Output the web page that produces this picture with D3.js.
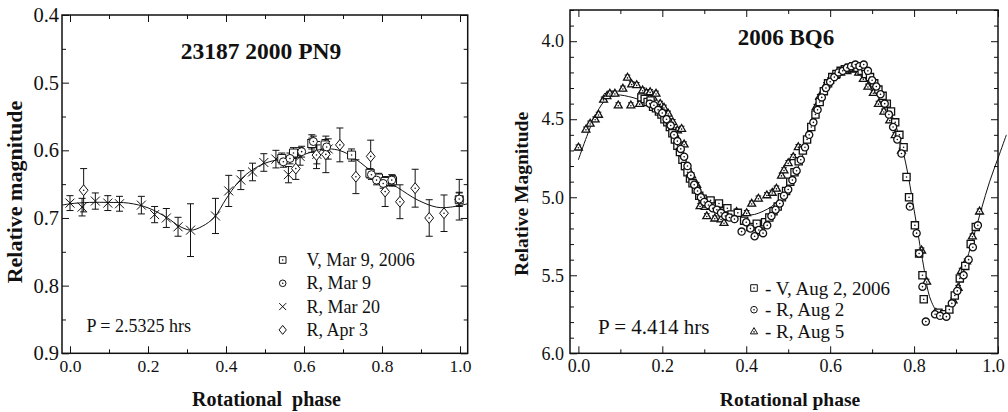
<!DOCTYPE html>
<html>
<head>
<meta charset="utf-8">
<script src="https://cdn.jsdelivr.net/npm/d3@7"></script>
<style>
  body { margin: 0; background: #fff; }
  svg text { font-family: "Liberation Serif", "DejaVu Serif", serif; fill: #111; }
</style>
</head>
<body>
<svg id="chart" width="1008" height="412"></svg>
<script>
// ---- 23187 2000 PN9 : [phase, magnitude, error] ----
const pn9V = [
  [0.543, 0.612, 0.008], [0.573, 0.604, 0.008], [0.620, 0.590, 0.008], [0.654, 0.592, 0.008],
  [0.722, 0.607, 0.009], [0.769, 0.634, 0.007], [0.791, 0.641, 0.007], [0.808, 0.646, 0.007],
  [0.827, 0.645, 0.008], [0.998, 0.673, 0.010]
];
const pn9RMar9 = [
  [0.547, 0.617, 0.008], [0.564, 0.612, 0.008], [0.594, 0.602, 0.008], [0.624, 0.587, 0.008],
  [0.658, 0.595, 0.008], [0.773, 0.636, 0.007], [0.786, 0.644, 0.007], [0.803, 0.649, 0.007],
  [0.825, 0.644, 0.008], [0.998, 0.672, 0.010]
];
const pn9RMar20 = [
  [0.000, 0.678, 0.011], [0.031, 0.684, 0.013], [0.065, 0.675, 0.012], [0.097, 0.678, 0.011],
  [0.127, 0.679, 0.011], [0.183, 0.681, 0.013], [0.217, 0.695, 0.012], [0.247, 0.700, 0.014],
  [0.277, 0.713, 0.014], [0.309, 0.718, 0.039], [0.373, 0.697, 0.026], [0.407, 0.660, 0.023],
  [0.438, 0.644, 0.014], [0.468, 0.632, 0.013], [0.497, 0.618, 0.013], [0.528, 0.613, 0.013],
  [0.560, 0.636, 0.012], [0.590, 0.609, 0.013], [0.620, 0.590, 0.013], [0.633, 0.606, 0.014],
  [0.662, 0.598, 0.015]
];
const pn9RApr3 = [
  [0.035, 0.659, 0.032], [0.579, 0.627, 0.016], [0.632, 0.607, 0.020], [0.656, 0.606, 0.027],
  [0.692, 0.592, 0.025], [0.733, 0.639, 0.025], [0.771, 0.609, 0.024], [0.808, 0.661, 0.022],
  [0.846, 0.676, 0.025], [0.885, 0.656, 0.028], [0.921, 0.700, 0.027], [0.959, 0.693, 0.027],
  [0.998, 0.673, 0.030]
];
const pn9Fit = [
  [-0.02, 0.681], [0.0, 0.679], [0.05, 0.677], [0.10, 0.677], [0.15, 0.678], [0.20, 0.685],
  [0.25, 0.700], [0.28, 0.712], [0.31, 0.718], [0.34, 0.712], [0.37, 0.699], [0.40, 0.672],
  [0.43, 0.648], [0.46, 0.632], [0.50, 0.619], [0.55, 0.612], [0.60, 0.606], [0.64, 0.599],
  [0.67, 0.598], [0.70, 0.602], [0.735, 0.614], [0.78, 0.634], [0.84, 0.655], [0.89, 0.673],
  [0.94, 0.684], [0.975, 0.684], [1.02, 0.679]
];
const pn9Legend = ["V, Mar 9, 2006", "R, Mar 9", "R, Mar 20", "R, Apr 3"];

// ---- 2006 BQ6 : [phase, magnitude] ----
const bq6V = [
  [0.150, 4.36], [0.158, 4.37], [0.165, 4.39], [0.172, 4.38], [0.178, 4.42], [0.185, 4.43],
  [0.192, 4.45], [0.198, 4.47], [0.205, 4.50], [0.212, 4.52], [0.218, 4.55], [0.224, 4.59],
  [0.230, 4.63], [0.236, 4.67], [0.242, 4.71], [0.248, 4.76], [0.254, 4.80], [0.260, 4.84],
  [0.266, 4.88], [0.272, 4.91], [0.280, 4.95], [0.288, 4.99], [0.296, 5.01], [0.305, 5.04],
  [0.315, 5.02], [0.325, 5.06], [0.335, 5.04], [0.345, 5.09], [0.355, 5.07], [0.365, 5.11],
  [0.380, 5.10], [0.395, 5.15], [0.410, 5.19], [0.425, 5.17], [0.435, 5.22], [0.445, 5.16],
  [0.455, 5.13], [0.465, 5.09], [0.475, 5.06], [0.485, 5.00], [0.495, 4.96], [0.505, 4.90],
  [0.515, 4.84], [0.525, 4.77], [0.535, 4.70], [0.545, 4.63], [0.555, 4.55], [0.565, 4.47],
  [0.575, 4.39], [0.585, 4.32], [0.595, 4.27], [0.605, 4.23], [0.615, 4.21], [0.625, 4.19],
  [0.635, 4.18], [0.645, 4.17], [0.655, 4.16], [0.665, 4.17], [0.675, 4.19], [0.685, 4.21],
  [0.695, 4.23], [0.705, 4.27], [0.715, 4.31], [0.725, 4.35], [0.735, 4.40], [0.745, 4.45],
  [0.755, 4.52], [0.765, 4.60], [0.775, 4.68], [0.782, 4.87], [0.788, 5.00], [0.802, 5.18],
  [0.812, 5.36], [0.820, 5.50], [0.823, 5.654], [0.858, 5.74], [0.872, 5.75], [0.884, 5.72],
  [0.897, 5.63], [0.909, 5.52], [0.922, 5.44], [0.935, 5.30], [0.947, 5.19]
];
const bq6RAug2 = [
  [0.170, 4.40], [0.180, 4.41], [0.190, 4.44], [0.200, 4.46], [0.210, 4.50], [0.220, 4.54],
  [0.228, 4.60], [0.236, 4.64], [0.244, 4.69], [0.252, 4.74], [0.260, 4.80], [0.268, 4.86],
  [0.276, 4.92], [0.284, 4.96], [0.292, 5.00], [0.300, 5.03], [0.310, 5.05], [0.320, 5.07],
  [0.330, 5.08], [0.340, 5.10], [0.350, 5.12], [0.360, 5.13], [0.372, 5.14], [0.389, 5.22],
  [0.400, 5.16], [0.410, 5.20], [0.420, 5.25], [0.430, 5.21], [0.440, 5.23], [0.450, 5.18],
  [0.460, 5.12], [0.470, 5.08], [0.480, 5.04], [0.490, 4.99], [0.500, 4.95], [0.510, 4.89],
  [0.520, 4.83], [0.530, 4.76], [0.540, 4.68], [0.550, 4.60], [0.560, 4.52], [0.570, 4.44],
  [0.580, 4.36], [0.590, 4.30], [0.600, 4.26], [0.610, 4.23], [0.620, 4.20], [0.630, 4.19],
  [0.640, 4.17], [0.650, 4.16], [0.660, 4.15], [0.670, 4.16], [0.680, 4.15], [0.690, 4.19],
  [0.700, 4.25], [0.710, 4.29], [0.720, 4.34], [0.730, 4.40], [0.740, 4.47], [0.750, 4.55],
  [0.760, 4.63], [0.770, 4.72], [0.790, 5.06], [0.806, 5.23], [0.812, 5.36], [0.820, 5.573],
  [0.828, 5.797], [0.850, 5.75], [0.862, 5.76], [0.877, 5.765], [0.890, 5.68], [0.903, 5.60],
  [0.918, 5.50], [0.930, 5.40], [0.940, 5.32], [0.952, 5.18]
];
const bq6RAug5 = [
  [0.000, 4.68], [0.018, 4.565], [0.028, 4.527], [0.040, 4.50], [0.048, 4.47], [0.060, 4.373],
  [0.068, 4.35], [0.075, 4.335], [0.087, 4.335], [0.095, 4.41], [0.106, 4.303], [0.117, 4.232],
  [0.125, 4.41], [0.127, 4.275], [0.139, 4.28], [0.146, 4.40], [0.153, 4.314], [0.162, 4.33],
  [0.171, 4.325], [0.178, 4.36], [0.185, 4.335], [0.195, 4.40], [0.204, 4.425], [0.214, 4.463],
  [0.225, 4.517], [0.236, 4.57], [0.246, 4.56], [0.252, 4.66], [0.258, 4.805], [0.270, 4.858],
  [0.282, 4.92], [0.290, 5.056], [0.302, 5.06], [0.306, 5.12], [0.325, 5.135], [0.340, 5.14],
  [0.347, 5.163], [0.377, 5.093], [0.401, 5.10], [0.413, 5.04], [0.429, 5.007], [0.449, 4.986],
  [0.462, 4.97], [0.472, 4.943], [0.484, 4.86], [0.490, 4.826], [0.500, 4.78], [0.512, 4.741],
  [0.524, 4.677], [0.567, 4.42], [0.575, 4.356], [0.590, 4.28], [0.599, 4.25], [0.612, 4.22],
  [0.625, 4.20], [0.640, 4.19], [0.655, 4.18], [0.668, 4.20], [0.679, 4.24], [0.690, 4.29],
  [0.703, 4.33], [0.715, 4.40], [0.728, 4.45], [0.742, 4.506], [0.755, 4.60], [0.770, 4.70],
  [0.818, 5.34], [0.830, 5.54], [0.852, 5.74], [0.866, 5.75], [0.882, 5.72], [0.893, 5.66],
  [0.905, 5.58], [0.913, 5.47], [0.925, 5.41], [0.939, 5.25], [0.956, 5.09]
];
const bq6Err = 0.015;
const bq6Fit = [
  [0.0, 4.76], [0.02, 4.61], [0.04, 4.48], [0.06, 4.39], [0.08, 4.35], [0.10, 4.345], [0.12, 4.355],
  [0.14, 4.37], [0.16, 4.40], [0.18, 4.43], [0.20, 4.48], [0.22, 4.55], [0.24, 4.66], [0.26, 4.80],
  [0.28, 4.93], [0.30, 5.01], [0.32, 5.05], [0.34, 5.08], [0.36, 5.10], [0.38, 5.11], [0.40, 5.115],
  [0.42, 5.11], [0.44, 5.09], [0.46, 5.06], [0.48, 5.01], [0.50, 4.93], [0.52, 4.83], [0.54, 4.69],
  [0.56, 4.53], [0.58, 4.37], [0.60, 4.26], [0.62, 4.20], [0.64, 4.17], [0.66, 4.165], [0.68, 4.19],
  [0.70, 4.25], [0.72, 4.33], [0.74, 4.43], [0.76, 4.57], [0.78, 4.78], [0.80, 5.08], [0.82, 5.40],
  [0.84, 5.66], [0.86, 5.743], [0.88, 5.71], [0.90, 5.61], [0.92, 5.45], [0.94, 5.27], [0.96, 5.08],
  [0.98, 4.90], [1.00, 4.75], [1.02, 4.60]
];
const bq6Legend = ["- V, Aug 2, 2006", "- R, Aug 2", "- R, Aug 5"];

const phaseTicks = [0, 0.2, 0.4, 0.6, 0.8, 1.0];
const phaseMinor = [0.1, 0.3, 0.5, 0.7, 0.9];
const pn9Ticks = [0.4, 0.5, 0.6, 0.7, 0.8, 0.9];
const pn9Minor = [0.45, 0.55, 0.65, 0.75, 0.85];
const bq6Ticks = [4.0, 4.5, 5.0, 5.5, 6.0];
const bq6Minor = [3.8, 3.9, 4.1, 4.2, 4.3, 4.4, 4.6, 4.7, 4.8, 4.9, 5.1, 5.2, 5.3, 5.4, 5.6, 5.7, 5.8, 5.9];

const svg = d3.select("#chart");

// marker shapes, drawn around (0,0)
function markerPath(type, s) {
  if (type === "square") return `M${-s},${-s}h${2 * s}v${2 * s}h${-2 * s}Z`;
  if (type === "diamond") return `M0,${-s * 1.35}L${s * 1.1},0L0,${s * 1.35}L${-s * 1.1},0Z`;
  if (type === "cross") return `M${-s},${-s}L${s},${s}M${-s},${s}L${s},${-s}`;
  if (type === "triangle") return `M0,${-s * 1.15}L${s * 1.1},${s * 0.75}L${-s * 1.1},${s * 0.75}Z`;
  return d3.arc()({ innerRadius: 0, outerRadius: s, startAngle: 0, endAngle: 2 * Math.PI });
}

function drawMarker(g, type, x, y, s, dot, sw) {
  g.append("path")
    .attr("transform", `translate(${x},${y})`)
    .attr("d", markerPath(type, s))
    .attr("fill", type === "cross" ? "none" : "#fff")
    .attr("stroke", "#111")
    .attr("stroke-width", sw || 1);
  if (dot) {
    g.append("circle").attr("cx", x).attr("cy", y + (type === "triangle" ? 0.5 : 0))
      .attr("r", 0.8).attr("fill", "#111");
  }
}

function drawFrame(g, x, y, xMinor, yMajor, yMinor, opt) {
  const [x0, x1] = x.range();
  const [y0, y1] = y.range();
  const ax = (axis, tx, ty) => g.append("g").attr("transform", `translate(${tx},${ty})`).call(axis)
    .call(s => s.select(".domain").remove())
    .call(s => s.selectAll("line").attr("stroke", "#111"));

  ax(d3.axisBottom(x).tickValues(phaseTicks).tickSize(-opt.major).tickPadding(opt.xPad).tickFormat(d3.format(".1f")), 0, y1)
    .selectAll("text").attr("font-size", opt.xFont).attr("dy", "0.71em")
    .attr("dx", d => d === 1 ? opt.lastShift : 0);
  ax(d3.axisBottom(x).tickValues(xMinor).tickSize(-opt.minor).tickFormat(""), 0, y1);
  ax(d3.axisTop(x).tickValues(phaseTicks).tickSize(-opt.major).tickFormat(""), 0, y0);
  ax(d3.axisTop(x).tickValues(xMinor).tickSize(-opt.minor).tickFormat(""), 0, y0);

  ax(d3.axisLeft(y).tickValues(yMajor).tickSize(-opt.major).tickPadding(opt.yPad).tickFormat(d3.format(".1f")), x0, 0)
    .selectAll("text").attr("font-size", opt.yFont);
  ax(d3.axisLeft(y).tickValues(yMinor).tickSize(-opt.minor).tickFormat(""), x0, 0);
  ax(d3.axisRight(y).tickValues(yMajor).tickSize(-opt.major).tickFormat(""), x1, 0);
  ax(d3.axisRight(y).tickValues(yMinor).tickSize(-opt.minor).tickFormat(""), x1, 0);

  g.append("rect").attr("x", x0).attr("y", y0).attr("width", x1 - x0).attr("height", y1 - y0)
    .attr("fill", "none").attr("stroke", "#111").attr("stroke-width", 1.5);
}

// ===================== left panel =====================
const xL = d3.scaleLinear().domain([-0.0205, 1.0197]).range([62, 467.7]);
const yL = d3.scaleLinear().domain([0.4, 0.9]).range([15, 353.3]);
const gL = svg.append("g");

drawFrame(gL, xL, yL, phaseMinor, pn9Ticks, pn9Minor,
  { major: 7, minor: 4, xPad: 6, yPad: 3, xFont: 17.5, yFont: 20.5, lastShift: 0 });

gL.append("path").datum(pn9Fit)
  .attr("d", d3.line().x(d => xL(d[0])).y(d => yL(d[1])).curve(d3.curveCatmullRom))
  .attr("fill", "none").attr("stroke", "#111").attr("stroke-width", 1);

const pn9Series = [
  { data: pn9RMar20, type: "cross", s: 4.5, dot: false },
  { data: pn9RApr3, type: "diamond", s: 4, dot: true },
  { data: pn9V, type: "square", s: 4, dot: true },
  { data: pn9RMar9, type: "circle", s: 4, dot: true }
];

pn9Series.forEach(ser => {
  const eb = gL.append("g").attr("stroke", "#111").attr("stroke-width", 1);
  ser.data.forEach(d => {
    const x = xL(d[0]), yt = yL(d[1] - d[2]), yb = yL(d[1] + d[2]);
    eb.append("line").attr("x1", x).attr("x2", x).attr("y1", yt).attr("y2", yb);
    eb.append("line").attr("x1", x - 3.5).attr("x2", x + 3.5).attr("y1", yt).attr("y2", yt);
    eb.append("line").attr("x1", x - 3.5).attr("x2", x + 3.5).attr("y1", yb).attr("y2", yb);
  });
});
pn9Series.forEach(ser => {
  ser.data.forEach(d => drawMarker(gL, ser.type, xL(d[0]), yL(d[1]), ser.s, ser.dot));
});

gL.append("text").attr("x", 261).attr("y", 59).attr("text-anchor", "middle")
  .attr("font-size", 23.5).attr("font-weight", "bold").text("23187 2000 PN9");
gL.append("text").attr("x", 86.5).attr("y", 331.5).attr("font-size", 18).text("P = 2.5325 hrs");

const legTypesL = ["square", "circle", "cross", "diamond"];
pn9Legend.forEach((t, i) => {
  const cy = 260 + i * 23.3;
  drawMarker(gL, legTypesL[i], 282.7, cy, legTypesL[i] === "cross" ? 3.5 : 3.3, legTypesL[i] !== "cross" && legTypesL[i] !== "diamond");
  gL.append("text").attr("x", 306.5).attr("y", cy + 6).attr("font-size", 18).text(t);
});

gL.append("text").attr("transform", "translate(22,192) rotate(-90)").attr("text-anchor", "middle")
  .attr("font-size", 22).attr("font-weight", "bold").text("Relative magnitude");
gL.append("text").attr("x", 266.5).attr("y", 405.5).attr("text-anchor", "middle")
  .attr("font-size", 20).attr("font-weight", "bold").style("white-space", "pre").text("Rotational  phase");

// ===================== right panel =====================
const xR = d3.scaleLinear().domain([-0.02, 1.0]).range([570, 998]);
const yR = d3.scaleLinear().domain([3.8, 6.0]).range([10, 353.3]);
const gR = svg.append("g");

drawFrame(gR, xR, yR, phaseMinor, bq6Ticks, bq6Minor,
  { major: 7, minor: 4, xPad: 6, yPad: 6, xFont: 18, yFont: 18, lastShift: -5 });

gR.append("path").datum(bq6Fit)
  .attr("d", d3.line().x(d => xR(d[0])).y(d => yR(d[1])).curve(d3.curveCatmullRom))
  .attr("fill", "none").attr("stroke", "#111").attr("stroke-width", 1);

const bq6Series = [
  { data: bq6RAug5, type: "triangle" },
  { data: bq6V, type: "square" },
  { data: bq6RAug2, type: "circle" }
];
bq6Series.forEach(ser => {
  const eb = gR.append("g").attr("stroke", "#111").attr("stroke-width", 1.1);
  ser.data.forEach(d => {
    const x = xR(d[0]), yt = yR(d[1] - bq6Err), yb = yR(d[1] + bq6Err);
    eb.append("line").attr("x1", x).attr("x2", x).attr("y1", yt).attr("y2", yb);
    eb.append("line").attr("x1", x - 2.8).attr("x2", x + 2.8).attr("y1", yt).attr("y2", yt);
    eb.append("line").attr("x1", x - 2.8).attr("x2", x + 2.8).attr("y1", yb).attr("y2", yb);
  });
});
bq6Series.forEach(ser => {
  ser.data.forEach(d => drawMarker(gR, ser.type, xR(d[0]), yR(d[1]), 3.6, true, 1.3));
});

gR.append("text").attr("x", 786).attr("y", 45).attr("text-anchor", "middle")
  .attr("font-size", 23).attr("font-weight", "bold").text("2006 BQ6");
gR.append("text").attr("x", 598).attr("y", 334).attr("font-size", 21).text("P = 4.414 hrs");

const legTypesR = ["square", "circle", "triangle"];
bq6Legend.forEach((t, i) => {
  const cy = 288 + i * 21.7;
  drawMarker(gR, legTypesR[i], 754, cy, 3.3, true);
  gR.append("text").attr("x", 765).attr("y", cy + 6.5).attr("font-size", 19).text(t);
});

gR.append("text").attr("transform", "translate(528,194) rotate(-90)").attr("text-anchor", "middle")
  .attr("font-size", 19.5).attr("font-weight", "bold").text("Relative Magnitude");
gR.append("text").attr("x", 790).attr("y", 406).attr("text-anchor", "middle")
  .attr("font-size", 19.5).attr("font-weight", "bold").text("Rotational phase");
</script>
</body>
</html>
